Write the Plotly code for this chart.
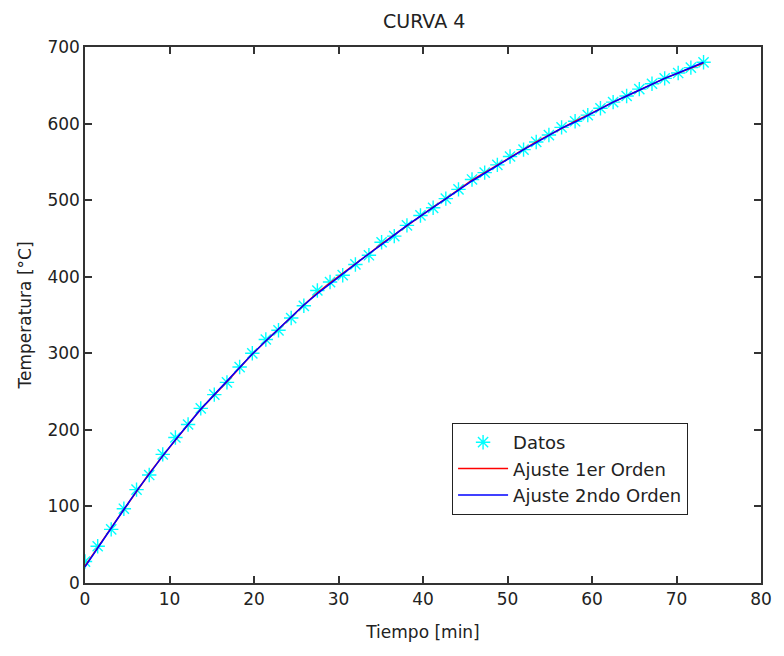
import plotly.graph_objects as go

# Measured heating curve (time in minutes, temperature in °C)
tiempo = [0.0, 1.5, 3.1, 4.6, 6.1, 7.6, 9.2, 10.7, 12.2, 13.7, 15.3, 16.8, 18.3,
          19.8, 21.4, 22.9, 24.4, 25.9, 27.5, 29.0, 30.5, 32.0, 33.6, 35.1, 36.6,
          38.1, 39.7, 41.2, 42.7, 44.2, 45.8, 47.3, 48.8, 50.3, 51.9, 53.4, 54.9,
          56.4, 58.0, 59.5, 61.0, 62.5, 64.1, 65.6, 67.1, 68.6, 70.2, 71.7, 73.2]

datos = [28, 48, 70, 97, 122, 141, 168, 190, 207, 228, 246, 262, 282,
         300, 318, 330, 346, 362, 382, 393, 402, 416, 428, 445, 453,
         467, 480, 490, 502, 514, 527, 536, 546, 557, 566, 576, 585,
         595, 603, 611, 620, 628, 636, 645, 652, 659, 666, 673, 680]

# Fitted responses evaluated at the same instants
ajuste_1er = [22, 47, 72, 96, 120, 143, 166, 187, 207, 227, 245, 263, 281,
              299, 316, 331, 347, 363, 379, 392, 404, 417, 430, 443, 455,
              467, 479, 491, 502, 514, 526, 536, 546, 556, 566, 576, 585,
              594, 603, 611, 620, 628, 636, 644, 651, 659, 666, 673, 679]

ajuste_2do = [21, 46, 71, 96, 120, 143, 166, 187, 207, 227, 246, 264, 282,
              299, 316, 332, 348, 363, 378, 391, 404, 417, 430, 442, 455,
              467, 479, 490, 502, 513, 525, 535, 546, 556, 566, 575, 585,
              594, 602, 611, 619, 628, 636, 644, 651, 659, 666, 673, 680]

x_ticks = [0, 10, 20, 30, 40, 50, 60, 70, 80]
y_ticks = [0, 100, 200, 300, 400, 500, 600, 700]

FONT = "DejaVu Sans, Arial, sans-serif"
TEXT_COLOR = "#222222"
AXIS_COLOR = "#333333"

fig = go.Figure()

fig.add_trace(go.Scatter(
    x=tiempo, y=datos, mode="markers", name="Datos",
    marker=dict(symbol="asterisk-open", size=12, color="#00FFFF",
                line=dict(color="#00FFFF", width=1.4)),
))
fig.add_trace(go.Scatter(
    x=tiempo, y=ajuste_1er, mode="lines", name="Ajuste 1er Orden",
    line=dict(color="#FF0000", width=1.5),
))
fig.add_trace(go.Scatter(
    x=tiempo, y=ajuste_2do, mode="lines", name="Ajuste 2ndo Orden",
    line=dict(color="#0000FF", width=1.5),
))

axis_common = dict(
    showgrid=False, zeroline=False,
    showline=True, linecolor=AXIS_COLOR, linewidth=1.5, mirror="ticks",
    ticks="inside", ticklen=7, tickwidth=1.5, tickcolor=AXIS_COLOR,
    tickfont=dict(family=FONT, size=17, color=TEXT_COLOR),
)

fig.update_layout(
    width=784, height=656,
    margin=dict(l=85, r=21, t=47, b=73),
    paper_bgcolor="white", plot_bgcolor="white",
    title=dict(text="CURVA 4", x=0.541, xanchor="center", y=0.967, yanchor="middle",
               font=dict(family=FONT, size=19, color=TEXT_COLOR)),
    xaxis=dict(range=[0, 80], tickvals=x_ticks,
               title=dict(text="Tiempo [min]", standoff=18,
                          font=dict(family=FONT, size=17, color=TEXT_COLOR)),
               **axis_common),
    yaxis=dict(range=[0, 700], tickvals=y_ticks,
               title=dict(text="Temperatura [°C]", standoff=11,
                          font=dict(family=FONT, size=17, color=TEXT_COLOR)),
               **axis_common),
    legend=dict(x=0.543, y=0.2985, xanchor="left", yanchor="top",
                bgcolor="white", bordercolor=TEXT_COLOR, borderwidth=1,
                font=dict(family=FONT, size=18, color=TEXT_COLOR),
                itemwidth=50, tracegroupgap=0),
    showlegend=True,
)

fig.write_html("out.html")
